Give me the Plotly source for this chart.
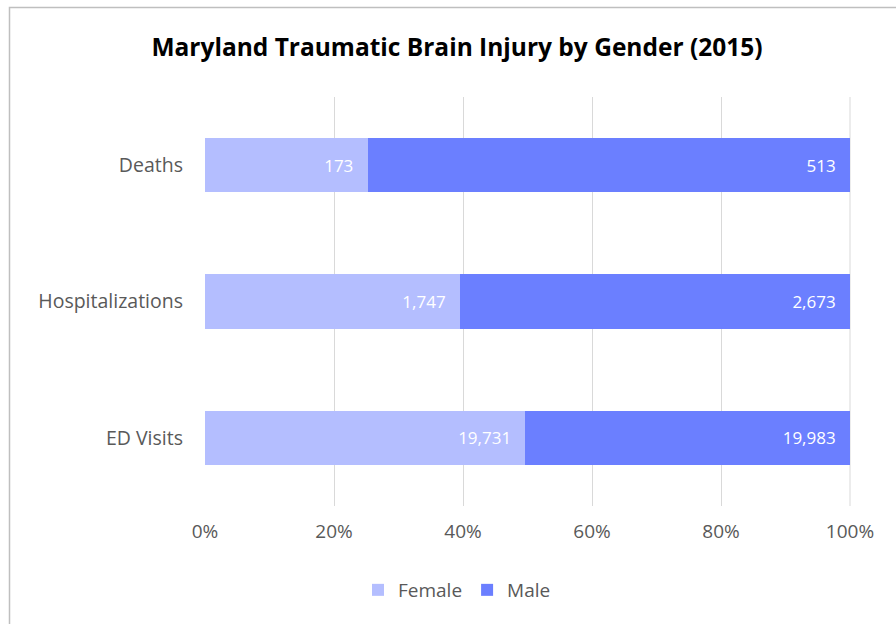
import plotly.graph_objects as go

# Maryland TBI counts by gender, 2015
categories = ["Deaths", "Hospitalizations", "ED Visits"]
female = [173, 1747, 19731]
male = [513, 2673, 19983]
tick_vals = [0, 20, 40, 60, 80, 100]
tick_text = ["0%", "20%", "40%", "60%", "80%", "100%"]

FONT = "Open Sans"
TXT = "#595959"
PAD = "\u2002\u2009"  # keeps the value labels clear of the bar ends

fig = go.Figure()
for name, vals, color in [("Female", female, "#B4BEFF"), ("Male", male, "#6B7FFF")]:
    fig.add_trace(go.Bar(
        name=name,
        y=categories,
        x=vals,
        orientation="h",
        marker=dict(color=color, line=dict(width=0)),
        text=[f"{v:,}{PAD}" for v in vals],
        textposition="inside",
        insidetextanchor="end",
        textfont=dict(color="white", size=17, family=FONT),
        width=0.4,
        hoverinfo="name+text",
    ))

L, R, T, B = 205, 46, 97, 118
W, H = 896, 624
pw, ph = W - L - R, H - T - B

def px_x(p):
    return (p - L) / pw

def px_y(p):
    return (H - B - p) / ph

fig.update_layout(
    barmode="stack",
    barnorm="percent",
    width=W,
    height=H,
    margin=dict(l=L, r=R, t=T, b=B),
    paper_bgcolor="white",
    plot_bgcolor="white",
    font=dict(family=FONT, color=TXT, size=19),
    title=dict(
        text="<b>Maryland Traumatic Brain Injury by Gender (2015)</b>",
        font=dict(family=FONT, size=24.5, color="black"),
        x=457 / W, xanchor="center", xref="container",
        y=1 - 47 / H, yanchor="middle", yref="container",
    ),
    xaxis=dict(
        range=[0, 100],
        tickvals=tick_vals,
        ticktext=tick_text,
        showgrid=True,
        gridcolor="#D9D9D9",
        gridwidth=1,
        zeroline=False,
        showline=False,
        ticks="",
        ticklabelstandoff=12,
        tickfont=dict(size=19, color=TXT, family=FONT),
        fixedrange=True,
    ),
    yaxis=dict(
        categoryorder="array",
        categoryarray=categories[::-1],
        showgrid=False,
        zeroline=False,
        ticks="",
        ticklabelstandoff=21,
        tickfont=dict(size=19.5, color=TXT, family=FONT),
        fixedrange=True,
    ),
    legend=dict(
        orientation="h",
        x=px_x(457), xanchor="center",
        y=px_y(590), yanchor="middle",
        font=dict(size=19, color=TXT, family=FONT),
        traceorder="normal",
        itemwidth=30,
    ),
    shapes=[
        dict(type="rect", xref="paper", yref="paper",
             x0=px_x(9.5), x1=px_x(W + 20), y0=px_y(H + 20), y1=px_y(7.5),
             line=dict(color="#BFBFBF", width=1.5), fillcolor="rgba(0,0,0,0)",
             layer="below"),
        dict(type="line", xref="paper", yref="paper",
             x0=1, x1=1, y0=0, y1=1,
             line=dict(color="#D9D9D9", width=1), layer="below"),
    ],
)

fig.write_html("out.html")
